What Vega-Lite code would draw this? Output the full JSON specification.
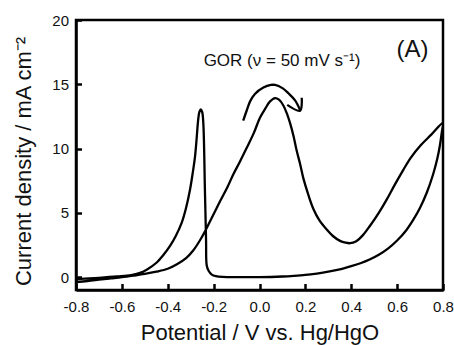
{
  "$schema": "https://vega.github.io/schema/vega-lite/v6.json",
  "width": 367,
  "height": 270,
  "autosize": "none",
  "padding": {"left": 76, "top": 20, "right": 11, "bottom": 55},
  "background": "white",
  "config": {
    "view": {"stroke": "black", "strokeWidth": 2.5},
    "font": "Liberation Sans",
    "axis": {
      "grid": false,
      "domainColor": "black",
      "domainWidth": 2.5,
      "tickColor": "black",
      "tickWidth": 2.5,
      "labelFont": "Liberation Sans",
      "labelFontSize": 15,
      "labelColor": "#111",
      "titleFont": "Liberation Sans",
      "titleFontSize": 22,
      "titleFontWeight": "normal",
      "titleColor": "#111"
    }
  },
  "datasets": {
    "cv": [
      {"s": "cv", "i": 1, "x": -0.80, "y": -0.38},
      {"s": "cv", "i": 2, "x": -0.75, "y": -0.30},
      {"s": "cv", "i": 3, "x": -0.70, "y": -0.20},
      {"s": "cv", "i": 4, "x": -0.65, "y": -0.10},
      {"s": "cv", "i": 5, "x": -0.60, "y": 0.00},
      {"s": "cv", "i": 6, "x": -0.55, "y": 0.12},
      {"s": "cv", "i": 7, "x": -0.50, "y": 0.25},
      {"s": "cv", "i": 8, "x": -0.45, "y": 0.42},
      {"s": "cv", "i": 9, "x": -0.40, "y": 0.65},
      {"s": "cv", "i": 10, "x": -0.36, "y": 1.00},
      {"s": "cv", "i": 11, "x": -0.32, "y": 1.48},
      {"s": "cv", "i": 12, "x": -0.29, "y": 2.05},
      {"s": "cv", "i": 13, "x": -0.26, "y": 2.85},
      {"s": "cv", "i": 14, "x": -0.238, "y": 3.55},
      {"s": "cv", "i": 15, "x": -0.21, "y": 4.55},
      {"s": "cv", "i": 16, "x": -0.172, "y": 5.9},
      {"s": "cv", "i": 17, "x": -0.14, "y": 7.0},
      {"s": "cv", "i": 18, "x": -0.114, "y": 8.0},
      {"s": "cv", "i": 19, "x": -0.085, "y": 9.0},
      {"s": "cv", "i": 20, "x": -0.056, "y": 10.05},
      {"s": "cv", "i": 21, "x": -0.025, "y": 11.2},
      {"s": "cv", "i": 22, "x": 0.002, "y": 12.4},
      {"s": "cv", "i": 23, "x": 0.025, "y": 13.1},
      {"s": "cv", "i": 24, "x": 0.046, "y": 13.67},
      {"s": "cv", "i": 25, "x": 0.068, "y": 13.93},
      {"s": "cv", "i": 26, "x": 0.085, "y": 13.8},
      {"s": "cv", "i": 27, "x": 0.104, "y": 13.35},
      {"s": "cv", "i": 28, "x": 0.12, "y": 12.7},
      {"s": "cv", "i": 29, "x": 0.133, "y": 12.0},
      {"s": "cv", "i": 30, "x": 0.148, "y": 11.0},
      {"s": "cv", "i": 31, "x": 0.162, "y": 9.85},
      {"s": "cv", "i": 32, "x": 0.177, "y": 8.8},
      {"s": "cv", "i": 33, "x": 0.191, "y": 7.7},
      {"s": "cv", "i": 34, "x": 0.213, "y": 6.4},
      {"s": "cv", "i": 35, "x": 0.235, "y": 5.3},
      {"s": "cv", "i": 36, "x": 0.26, "y": 4.45},
      {"s": "cv", "i": 37, "x": 0.293, "y": 3.7},
      {"s": "cv", "i": 38, "x": 0.32, "y": 3.2},
      {"s": "cv", "i": 39, "x": 0.351, "y": 2.82},
      {"s": "cv", "i": 40, "x": 0.375, "y": 2.68},
      {"s": "cv", "i": 41, "x": 0.395, "y": 2.64},
      {"s": "cv", "i": 42, "x": 0.42, "y": 2.78},
      {"s": "cv", "i": 43, "x": 0.45, "y": 3.25},
      {"s": "cv", "i": 44, "x": 0.482, "y": 4.0},
      {"s": "cv", "i": 45, "x": 0.52, "y": 5.0},
      {"s": "cv", "i": 46, "x": 0.555, "y": 6.05},
      {"s": "cv", "i": 47, "x": 0.59, "y": 7.2},
      {"s": "cv", "i": 48, "x": 0.627, "y": 8.35},
      {"s": "cv", "i": 49, "x": 0.66, "y": 9.3},
      {"s": "cv", "i": 50, "x": 0.70, "y": 10.2},
      {"s": "cv", "i": 51, "x": 0.75, "y": 11.1},
      {"s": "cv", "i": 52, "x": 0.80, "y": 12.0},
      {"s": "cv", "i": 53, "x": 0.795, "y": 11.3},
      {"s": "cv", "i": 54, "x": 0.787, "y": 10.3},
      {"s": "cv", "i": 55, "x": 0.775, "y": 9.2},
      {"s": "cv", "i": 56, "x": 0.757, "y": 8.0},
      {"s": "cv", "i": 57, "x": 0.73, "y": 6.6},
      {"s": "cv", "i": 58, "x": 0.70, "y": 5.4},
      {"s": "cv", "i": 59, "x": 0.67, "y": 4.45},
      {"s": "cv", "i": 60, "x": 0.64, "y": 3.65},
      {"s": "cv", "i": 61, "x": 0.60, "y": 2.85},
      {"s": "cv", "i": 62, "x": 0.56, "y": 2.22},
      {"s": "cv", "i": 63, "x": 0.52, "y": 1.74},
      {"s": "cv", "i": 64, "x": 0.48, "y": 1.37},
      {"s": "cv", "i": 65, "x": 0.44, "y": 1.08},
      {"s": "cv", "i": 66, "x": 0.40, "y": 0.85},
      {"s": "cv", "i": 67, "x": 0.35, "y": 0.6},
      {"s": "cv", "i": 68, "x": 0.30, "y": 0.42},
      {"s": "cv", "i": 69, "x": 0.25, "y": 0.28},
      {"s": "cv", "i": 70, "x": 0.20, "y": 0.17},
      {"s": "cv", "i": 71, "x": 0.15, "y": 0.1},
      {"s": "cv", "i": 72, "x": 0.10, "y": 0.05},
      {"s": "cv", "i": 73, "x": 0.0, "y": 0.0},
      {"s": "cv", "i": 74, "x": -0.10, "y": 0.0},
      {"s": "cv", "i": 75, "x": -0.16, "y": 0.02},
      {"s": "cv", "i": 76, "x": -0.19, "y": 0.08},
      {"s": "cv", "i": 77, "x": -0.208, "y": 0.2},
      {"s": "cv", "i": 78, "x": -0.222, "y": 0.5},
      {"s": "cv", "i": 79, "x": -0.230, "y": 0.9},
      {"s": "cv", "i": 80, "x": -0.233, "y": 2.9},
      {"s": "cv", "i": 81, "x": -0.238, "y": 6.8},
      {"s": "cv", "i": 82, "x": -0.245, "y": 12.0},
      {"s": "cv", "i": 83, "x": -0.250, "y": 12.85},
      {"s": "cv", "i": 84, "x": -0.256, "y": 13.05},
      {"s": "cv", "i": 85, "x": -0.262, "y": 12.85},
      {"s": "cv", "i": 86, "x": -0.267, "y": 12.3},
      {"s": "cv", "i": 87, "x": -0.274, "y": 10.8},
      {"s": "cv", "i": 88, "x": -0.281, "y": 9.4},
      {"s": "cv", "i": 89, "x": -0.292, "y": 8.0},
      {"s": "cv", "i": 90, "x": -0.303, "y": 6.8},
      {"s": "cv", "i": 91, "x": -0.32, "y": 5.4},
      {"s": "cv", "i": 92, "x": -0.339, "y": 4.24},
      {"s": "cv", "i": 93, "x": -0.365, "y": 3.2},
      {"s": "cv", "i": 94, "x": -0.39, "y": 2.43},
      {"s": "cv", "i": 95, "x": -0.42, "y": 1.7},
      {"s": "cv", "i": 96, "x": -0.448, "y": 1.14},
      {"s": "cv", "i": 97, "x": -0.49, "y": 0.6},
      {"s": "cv", "i": 98, "x": -0.521, "y": 0.33},
      {"s": "cv", "i": 99, "x": -0.56, "y": 0.15},
      {"s": "cv", "i": 100, "x": -0.62, "y": 0.05},
      {"s": "cv", "i": 101, "x": -0.70, "y": -0.05},
      {"s": "cv", "i": 102, "x": -0.80, "y": -0.15},
      {"s": "arc", "i": 1, "x": -0.071, "y": 12.17},
      {"s": "arc", "i": 2, "x": -0.055, "y": 13.0},
      {"s": "arc", "i": 3, "x": -0.041, "y": 13.67},
      {"s": "arc", "i": 4, "x": -0.02, "y": 14.25},
      {"s": "arc", "i": 5, "x": 0.017, "y": 14.75},
      {"s": "arc", "i": 6, "x": 0.05, "y": 14.95},
      {"s": "arc", "i": 7, "x": 0.068, "y": 14.95},
      {"s": "arc", "i": 8, "x": 0.1, "y": 14.7},
      {"s": "arc", "i": 9, "x": 0.126, "y": 14.3},
      {"s": "arc", "i": 10, "x": 0.155, "y": 13.75},
      {"s": "arc", "i": 11, "x": 0.177, "y": 13.0},
      {"s": "head", "i": 1, "x": 0.121, "y": 13.4},
      {"s": "head", "i": 2, "x": 0.177, "y": 12.95},
      {"s": "head", "i": 3, "x": 0.184, "y": 13.95}
    ],
    "notes": [
      {"label": "GOR (ν = 50 mV s⁻¹)", "x": 0.098, "y": 16.45, "size": 17},
      {"label": "(A)", "x": 0.667, "y": 17.1, "size": 24}
    ]
  },
  "layer": [
    {
      "data": {"name": "cv"},
      "mark": {"type": "line", "color": "black", "strokeWidth": 2.3, "clip": true, "interpolate": "catmull-rom"},
      "encoding": {
        "x": {
          "field": "x", "type": "quantitative",
          "scale": {"domain": [-0.8, 0.8], "nice": false, "zero": false},
          "axis": {
            "title": "Potential / V vs. Hg/HgO",
            "values": [-0.8, -0.7, -0.6, -0.5, -0.4, -0.3, -0.2, -0.1, 0, 0.1, 0.2, 0.3, 0.4, 0.5, 0.6, 0.7, 0.8],
            "labelExpr": "round(datum.value*10) % 2 != 0 ? '' : (datum.value < 0 ? '-' : '') + format(abs(datum.value), '.1f')",
            "tickSize": {"condition": {"test": "round(datum.value*10) % 2 != 0", "value": -3.5}, "value": -6.5},
            "labelPadding": 16,
            "labelFlush": false,
            "labelOverlap": false,
            "titlePadding": 8
          }
        },
        "y": {
          "field": "y", "type": "quantitative",
          "scale": {"domain": [-1, 20], "nice": false, "zero": false},
          "axis": {
            "title": "Current density / mA cm⁻²",
            "values": [0, 2.5, 5, 7.5, 10, 12.5, 15, 17.5, 20],
            "labelExpr": "datum.value % 5 != 0 ? '' : format(datum.value, 'd')",
            "tickSize": {"condition": {"test": "datum.value % 5 != 0", "value": -3}, "value": -5.5},
            "labelPadding": 13,
            "labelFlush": false,
            "labelOverlap": false,
            "titlePadding": 16,
            "titleY": 141
          }
        },
        "detail": {"field": "s"},
        "order": {"field": "i"}
      }
    },
    {
      "data": {"name": "notes"},
      "mark": {"type": "text", "color": "#111", "font": "Liberation Sans", "align": "center", "baseline": "alphabetic"},
      "encoding": {
        "x": {"field": "x", "type": "quantitative"},
        "y": {"field": "y", "type": "quantitative"},
        "text": {"field": "label"},
        "size": {"field": "size", "type": "quantitative", "scale": null}
      }
    }
  ]
}
